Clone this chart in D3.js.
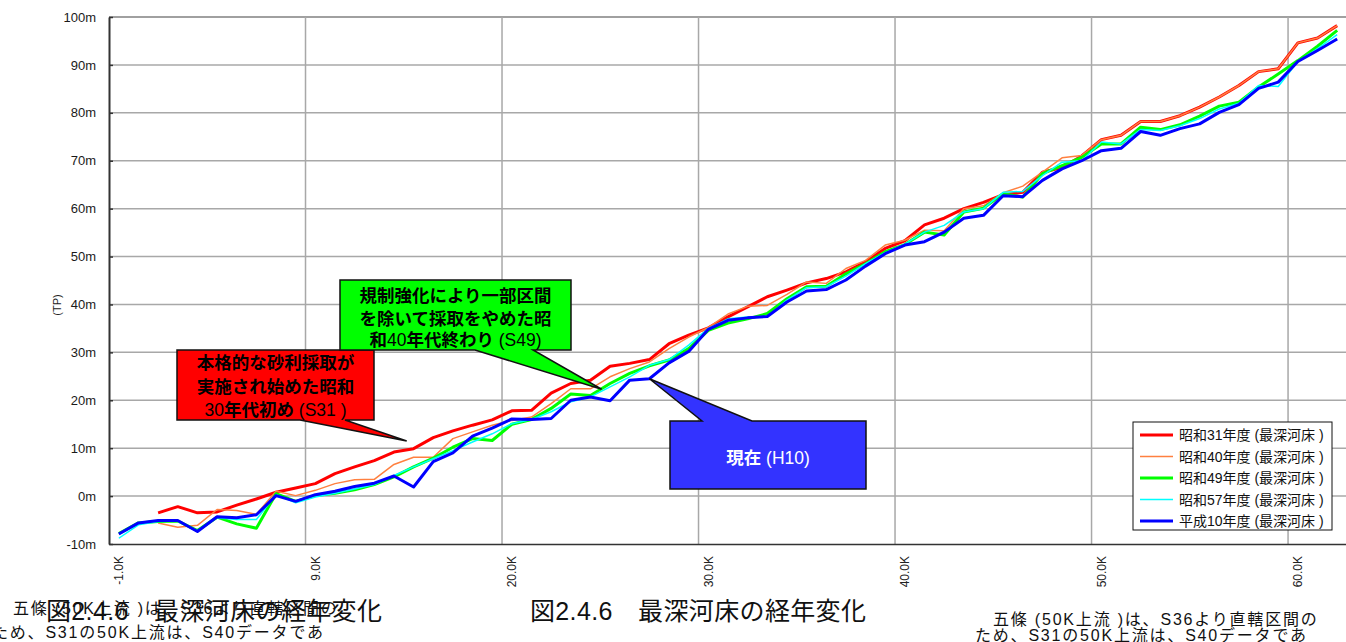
<!DOCTYPE html>
<html>
<head>
<meta charset="utf-8">
<script src="https://cdn.jsdelivr.net/npm/d3@7"></script>
<style>
  body { margin: 0; background: #fff; }
  svg { display: block; font-family: "Liberation Sans", "Noto Sans CJK JP", sans-serif; }
</style>
</head>
<body>
<svg id="chart" width="1346" height="642"></svg>
<script>
// Distance posts along the river (km), one category each
const kmPosts = [-1, 0, 1, 2, 3, 4, 5, 6, 7, 8, 9, 10, 11, 12, 13, 14, 15, 16, 17, 18,
  20, 21, 22, 23, 24, 25, 26, 27, 28, 29, 30, 31, 32, 33, 34, 35, 36, 37, 38, 39,
  40, 41, 42, 43, 44, 45, 46, 47, 48, 49, 50, 51, 52, 53, 54, 55, 56, 57, 58, 59,
  60, 61, 62];

// Deepest riverbed elevation (m, TP) per survey year
const s31 = [null, null, -3.5, -2.2, -3.5, -3.3, -1.9, -0.6, 0.8, 1.7, 2.6, 4.7, 6.1, 7.4, 9.2, 9.9, 12.2, 13.6, 14.8, 15.9,
  17.8, 17.9, 21.5, 23.5, 24.2, 27.1, 27.7, 28.5, 31.8, 33.6, 35.1, 37.4, 39.5, 41.6, 43.0, 44.5, 45.4, 46.8, 48.9, 51.7,
  53.3, 56.6, 58.0, 60.0, 61.3, 62.9, 63.4, 67.6, 68.6, 71.0, 74.4, 75.3, 78.2, 78.2, 79.4, 81.2, 83.3, 85.7, 88.6, 89.2,
  94.6, 95.6, 98.2];
const s40 = [null, null, -5.6, -6.5, -6.1, -2.8, -3.0, -3.8, 1.0, 0.1, 1.2, 2.6, 3.4, 3.5, 6.6, 8.1, 8.1, 12.0, 13.4, 14.8,
  15.8, 16.5, 19.3, 22.4, 22.4, 24.9, 26.6, 28.0, 30.8, 33.2, 35.2, 38.0, 39.6, 39.8, 42.1, 44.7, 44.4, 47.5, 49.2, 52.4,
  53.4, 55.5, 55.4, 60.0, 60.6, 63.3, 64.7, 67.6, 70.6, 71.1, 74.4, 75.3, 78.2, 78.2, 79.4, 81.2, 83.3, 85.7, 88.6, 89.2,
  94.6, 95.6, 98.2];
const s49 = [-7.8, -5.6, -5.3, -5.2, -7.2, -4.4, -5.8, -6.7, 0.5, -1.1, 0.1, 0.6, 1.3, 2.4, 4.0, 6.1, 7.9, 10.2, 12.0, 11.6,
  15.0, 16.0, 18.3, 21.3, 21.0, 23.5, 25.6, 27.2, 28.4, 30.8, 34.6, 36.1, 37.0, 38.1, 41.2, 43.7, 43.8, 46.4, 48.5, 51.0,
  52.5, 55.1, 54.5, 59.3, 60.1, 63.1, 62.4, 67.3, 69.0, 70.7, 73.5, 73.5, 77.0, 76.5, 77.5, 79.3, 81.4, 82.2, 85.4, 88.1,
  90.9, 93.9, 97.2];
const s57 = [-8.8, -6.0, -5.3, -5.2, -7.2, -4.5, -4.9, -4.9, 0.3, -1.4, -0.2, 0.6, 1.5, 2.4, 4.3, 6.1, 7.8, 9.5, 11.3, 13.0,
  15.1, 16.0, 17.6, 19.7, 20.7, 22.8, 24.9, 27.3, 28.5, 31.5, 35.0, 37.0, 37.4, 37.4, 40.9, 43.5, 43.7, 45.9, 48.5, 50.8,
  52.6, 55.1, 56.5, 59.3, 60.0, 63.4, 63.6, 66.9, 69.7, 70.0, 73.9, 73.5, 76.5, 76.3, 77.3, 78.8, 80.8, 82.0, 85.7, 85.5,
  90.7, 93.4, 96.3];
const h10 = [-7.9, -5.6, -5.1, -5.1, -7.4, -4.3, -4.5, -3.9, 0.1, -1.1, 0.3, 1.0, 2.0, 2.7, 4.2, 1.9, 7.2, 9.0, 12.5, 14.2,
  16.1, 16.0, 16.2, 20.0, 20.7, 19.9, 24.2, 24.5, 27.8, 30.2, 34.8, 36.7, 37.2, 37.5, 40.5, 42.8, 43.1, 45.1, 48.0, 50.6,
  52.4, 53.1, 55.1, 58.0, 58.6, 62.7, 62.5, 65.9, 68.3, 70.0, 72.1, 72.6, 76.1, 75.3, 76.7, 77.7, 80.1, 81.7, 85.1, 86.4,
  90.7, 93.0, 95.4];

const seriesNames = ["昭和31年度 (最深河床 )", "昭和40年度 (最深河床 )", "昭和49年度 (最深河床 )", "昭和57年度 (最深河床 )", "平成10年度 (最深河床 )"];
const seriesValues = [s31, s40, s49, s57, h10];
const seriesColors = ["#ff0000", "#ff8040", "#00ff00", "#00ffff", "#0000ff"];
const seriesWidths = [3, 1.5, 3, 1.5, 3];

const yTicks = [-10, 0, 10, 20, 30, 40, 50, 60, 70, 80, 90, 100];
const labelEvery = 10;

const svg = d3.select("#chart");
const plot = { left: 109, right: 1347, top: 17, bottom: 544 };

const x = d3.scaleBand().domain(kmPosts).range([plot.left, plot.right]).padding(0);
const y = d3.scaleLinear().domain([-10, 100]).range([plot.bottom, plot.top]);
const cx = i => x(kmPosts[0]) + x.bandwidth() * (i + 0.5);   // centre of category i (fractional ok)

// horizontal gridlines
svg.append("g").selectAll("line").data(yTicks.filter(v => v > -10 && v < 100)).join("line")
  .attr("x1", plot.left).attr("x2", plot.right)
  .attr("y1", d => y(d)).attr("y2", d => y(d))
  .attr("stroke", "#a8a8a8").attr("stroke-width", 1.5);
// top border
svg.append("line").attr("x1", plot.left).attr("x2", plot.right)
  .attr("y1", y(100)).attr("y2", y(100)).attr("stroke", "#808080").attr("stroke-width", 1.5);

// vertical gridlines on category boundaries every 10 posts
const labelPosts = kmPosts.filter((d, i) => i % labelEvery === 0);
svg.append("g").selectAll("line").data(labelPosts.slice(1)).join("line")
  .attr("x1", d => x(d)).attr("x2", d => x(d))
  .attr("y1", plot.top).attr("y2", plot.bottom)
  .attr("stroke", "#a8a8a8").attr("stroke-width", 1.5);

// y axis
const yAxis = svg.append("g").attr("transform", `translate(${plot.left},0)`)
  .call(d3.axisLeft(y).tickValues(yTicks).tickFormat(d => d + "m").tickSizeInner(-4).tickSizeOuter(0).tickPadding(13));
yAxis.select(".domain").attr("stroke", "#333").attr("stroke-width", 2);
yAxis.selectAll(".tick line").attr("stroke", "#333").attr("stroke-width", 1.5);
yAxis.selectAll(".tick text").attr("font-size", 13).attr("fill", "#1a1a1a")
  .attr("font-family", "Liberation Sans, sans-serif");

svg.append("text").attr("transform", "translate(57,305) rotate(-90)")
  .attr("text-anchor", "middle").attr("dominant-baseline", "central")
  .attr("font-size", 11).attr("fill", "#222").text("(TP)");

// x axis
const xAxis = svg.append("g").attr("transform", `translate(0,${plot.bottom})`)
  .call(d3.axisBottom(x).tickValues(labelPosts).tickFormat(d => d.toFixed(1) + "K").tickSize(0).tickSizeOuter(0));
xAxis.select(".domain").attr("stroke", "#333").attr("stroke-width", 1.5);
xAxis.selectAll(".tick text")
  .attr("transform", "rotate(-90)").attr("text-anchor", "end")
  .attr("x", -12).attr("y", 0).attr("dy", "0.35em")
  .attr("font-size", 12).attr("fill", "#222").attr("font-family", "Liberation Sans, sans-serif");

// series lines
const line = d3.line()
  .defined(d => d.v !== null)
  .x(d => cx(d.i))
  .y(d => y(d.v));
svg.append("g").selectAll("path").data(seriesValues).join("path")
  .attr("d", vals => line(vals.map((v, i) => ({ i, v }))))
  .attr("fill", "none")
  .attr("stroke", (d, k) => seriesColors[k])
  .attr("stroke-width", (d, k) => seriesWidths[k])
  .attr("stroke-linejoin", "round");

// legend
const legend = svg.append("g").attr("transform", "translate(1133,422)");
legend.append("rect").attr("width", 199).attr("height", 108)
  .attr("fill", "#fff").attr("stroke", "#111").attr("stroke-width", 1);
const rows = legend.selectAll("g.row").data(seriesNames).join("g").attr("class", "row")
  .attr("transform", (d, k) => `translate(0,${13 + k * 21.5})`);
rows.append("line").attr("x1", 7).attr("x2", 40).attr("y1", 0).attr("y2", 0)
  .attr("stroke", (d, k) => seriesColors[k]).attr("stroke-width", (d, k) => seriesWidths[k]);
rows.append("text").attr("x", 46).attr("dominant-baseline", "central")
  .attr("font-size", 14).attr("fill", "#111").text(d => d);

// callouts: box in pixels, pointer tip in data coordinates (category index, elevation)
const callouts = [
  { fill: "#ff0000", box: [177, 350, 374, 420], base: [300, 345], side: "bottom", tip: [14.65, 11.5],
    lines: ["本格的な砂利採取が", "実施され始めた昭和", "30年代初め (S31 )"], color: "#000", cy: [363, 386.5, 410] },
  { fill: "#00ff00", box: [340, 280, 571, 350], base: [475, 533], side: "bottom", tip: [24.57, 22.3],
    lines: ["規制強化により一部区間", "を除いて採取をやめた昭", "和40年代終わり (S49)"], color: "#000", cy: [296, 318.5, 340] },
  { fill: "#3333ff", box: [670, 421, 866, 489], base: [702, 752], side: "top", tip: [27, h10[27]],
    lines: ["現在 (H10)"], color: "#fff", cy: [458] }
];

function calloutPath(c) {
  const [x0, y0, x1, y1] = c.box;
  const tx = cx(c.tip[0]), ty = y(c.tip[1]);
  if (c.side === "bottom") {
    return `M${x0},${y0}H${x1}V${y1}H${c.base[1]}L${tx},${ty}L${c.base[0]},${y1}H${x0}Z`;
  }
  return `M${x0},${y0}H${c.base[0]}L${tx},${ty}L${c.base[1]},${y0}H${x1}V${y1}H${x0}Z`;
}

const cg = svg.append("g").selectAll("g").data(callouts).join("g");
cg.append("path").attr("d", calloutPath)
  .attr("fill", d => d.fill).attr("stroke", "#111").attr("stroke-width", 1.5).attr("stroke-linejoin", "miter");
cg.each(function (c) {
  const g = d3.select(this);
  const mid = (c.box[0] + c.box[2]) / 2;
  c.lines.forEach((t, k) => {
    const txt = g.append("text").attr("x", mid).attr("y", c.cy[k])
      .attr("text-anchor", "middle").attr("dominant-baseline", "central")
      .attr("font-size", 17.5).attr("fill", c.color);
    // CJK runs in bold, latin runs regular
    t.split(/([\x00-\x7F]+)/).filter(s => s.length).forEach(s => {
      txt.append("tspan").attr("font-weight", /^[\x00-\x7F]+$/.test(s) ? "normal" : "bold").text(s);
    });
  });
});

// captions and notes below the chart
const caption = "図2.4.6　最深河床の経年変化";
const note1 = "五條 (50K上流 )は、S36より直轄区間の";
const note2 = "ため、S31の50K上流は、S40データであ";
const foot = svg.append("g").attr("fill", "#111");
[[13, 614, note1], [-8, 638, note2], [993, 625, note1], [975, 641, note2]].forEach(([tx, ty, t]) => {
  foot.append("text").attr("x", tx).attr("y", ty).attr("font-size", 16)
    .attr("letter-spacing", 1.8).text(t);
});
[[46, 620], [530, 620]].forEach(([tx, ty]) => {
  foot.append("text").attr("x", tx).attr("y", ty).attr("font-size", 25)
    .attr("textLength", 336).attr("lengthAdjust", "spacing").text(caption);
});
</script>
</body>
</html>
